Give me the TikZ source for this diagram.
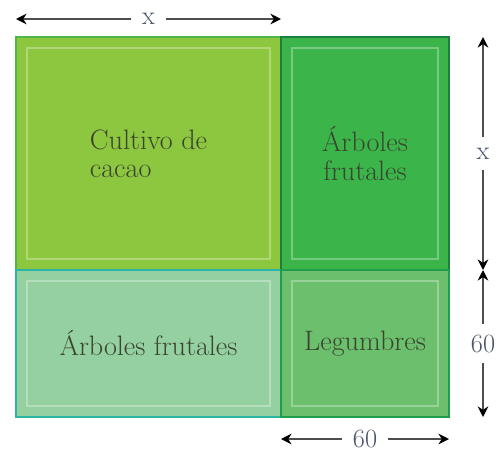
\documentclass[tikz,border=0pt]{standalone}
\usepackage{tikz}
\usetikzlibrary{positioning}
\usetikzlibrary{arrows.meta}
\definecolor{cacaoFill}{HTML}{8DC63F}
\definecolor{cacaoEdge}{HTML}{4CB748}
\definecolor{treeFill}{HTML}{3BB54A}
\definecolor{treeEdge}{HTML}{1C7F3D}
\definecolor{mintFill}{HTML}{94D0A0}
\definecolor{mintEdge}{HTML}{2BB5A4}
\definecolor{legumeFill}{HTML}{6CBF6C}
\definecolor{legumeEdge}{HTML}{1E9E4B}
\definecolor{labelText}{HTML}{3A4530}
\definecolor{dimText}{HTML}{4A546A}
\definecolor{dimGray}{HTML}{4D4D4D}
\tikzset{
    node distance=0cm, % The fields touch each other
    field/.style={ % Sets the properties for each piece of land
        draw,
        line width=1.1pt,
        outer sep=0pt,
        inner sep=0pt,
        align=center,
        text=labelText,
        font=\fontsize{16}{16}\selectfont
    },
    inner frame/.style={ % Light line inside each field
        draw=white,
        draw opacity=0.3,
        line width=0.6pt
    },
    dimline/.style={ % Measure arrows
        draw=dimGray,
        line width=1.1pt,
        -{Stealth[length=6pt,width=6pt,color=black]}
    },
    dimlabel/.style={
        text=dimText,
        inner sep=6pt,
        font=\fontsize{15}{15}\selectfont
    }
}
\begin{document}
\begin{tikzpicture}
    \useasboundingbox (0,0) rectangle (10.04,-9);

    \node[field, fill=cacaoFill, draw=cacaoEdge, align=left, minimum width=5.3cm, minimum height=4.66cm, anchor=north west] (cacao) at (0.32,-0.74) {Cultivo de\\cacao};
    \node[field, fill=treeFill, draw=treeEdge, minimum width=3.36cm, minimum height=4.66cm, right=of cacao] (treesTop) {Árboles\\frutales};
    \node[field, fill=mintFill, draw=mintEdge, minimum width=5.3cm, minimum height=2.94cm, below=of cacao] (treesLow) {Árboles frutales};
    \node[field, fill=legumeFill, draw=legumeEdge, minimum width=3.36cm, minimum height=2.94cm, below=of treesTop] (legumes) {Legumbres};

    \foreach \f in {cacao,treesTop,treesLow,legumes}
        \draw[inner frame] ([shift={(0.22,-0.22)}]\f.north west) rectangle ([shift={(-0.22,0.22)}]\f.south east);

    % width x
    \coordinate (topL) at ([yshift=0.36cm]cacao.north west);
    \coordinate (topR) at ([yshift=0.36cm]cacao.north east);
    \node[dimlabel] (xTop) at ([yshift=0.36cm]cacao.north) {x};
    \draw[dimline] (xTop) -- (topL);
    \draw[dimline] (xTop) -- (topR);

    % height x and 60
    \coordinate (rTop) at ([xshift=0.68cm]treesTop.north east);
    \coordinate (rMid) at ([xshift=0.68cm]treesTop.south east);
    \coordinate (rBot) at ([xshift=0.68cm]legumes.south east);
    \node[dimlabel] (xRight) at ([xshift=0.68cm]treesTop.east) {x};
    \node[dimlabel] (sixtyRight) at ([xshift=0.68cm]legumes.east) {60};
    \draw[dimline] (xRight) -- (rTop);
    \draw[dimline] (xRight) -- (rMid);
    \draw[dimline] (sixtyRight) -- (rMid);
    \draw[dimline] (sixtyRight) -- (rBot);

    % width 60
    \coordinate (bL) at ([yshift=-0.44cm]legumes.south west);
    \coordinate (bR) at ([yshift=-0.44cm]legumes.south east);
    \node[dimlabel] (sixtyBottom) at ([yshift=-0.44cm]legumes.south) {60};
    \draw[dimline] (sixtyBottom) -- (bL);
    \draw[dimline] (sixtyBottom) -- (bR);
\end{tikzpicture}
\end{document}
